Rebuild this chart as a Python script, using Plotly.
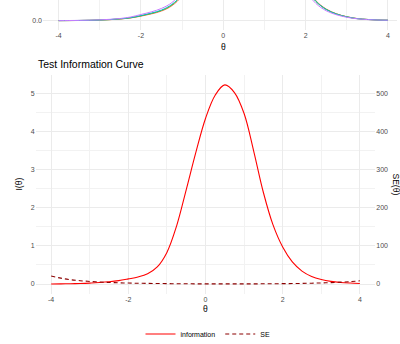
import plotly.graph_objects as go

# ---------------- data ----------------
theta = [-4.0, -3.75, -3.5, -3.25, -3.0, -2.75, -2.5, -2.25, -2.0, -1.75, -1.5, -1.25,
         -1.0, -0.75, -0.5, -0.25, 0.0, 0.25, 0.5, 0.75, 1.0, 1.25, 1.5, 1.75,
         2.0, 2.25, 2.5, 2.75, 3.0, 3.25, 3.5, 3.75, 4.0]

information = [0.003, 0.005, 0.009, 0.015, 0.025, 0.04, 0.06, 0.09, 0.135, 0.185, 0.27, 0.45,
               0.83, 1.52, 2.47, 3.45, 4.34, 4.95, 5.22, 5.02, 4.47, 3.48, 2.40, 1.55,
               0.97, 0.58, 0.34, 0.20, 0.12, 0.07, 0.042, 0.026, 0.016]

se = [21.0, 15.5, 11.5, 8.8, 6.8, 5.3, 4.2, 3.3, 2.6, 2.1, 1.8, 1.45,
      1.1, 0.81, 0.64, 0.54, 0.48, 0.45, 0.44, 0.45, 0.47, 0.54, 0.65, 0.79,
      1.01, 1.31, 1.71, 2.24, 2.9, 3.8, 4.9, 6.4, 8.5]

item_names = ["Item 1", "Item 2", "Item 3", "Item 4"]
item_colors = ["#F8766D", "#7CAE00", "#00BFC4", "#C77CFF"]
item_info = [
    [0.0004, 0.0008, 0.0015, 0.0026, 0.0045, 0.0075, 0.012, 0.020, 0.033, 0.049, 0.070, 0.108,
     0.18, 0.33, 0.59, 0.85, 1.07, 1.23, 1.30, 1.26, 1.13, 0.91, 0.63, 0.43,
     0.25, 0.145, 0.085, 0.050, 0.029, 0.016, 0.009, 0.005, 0.0035],
    [0.0005, 0.0009, 0.0016, 0.0028, 0.0048, 0.008, 0.013, 0.021, 0.035, 0.052, 0.074, 0.113,
     0.19, 0.35, 0.61, 0.86, 1.08, 1.24, 1.31, 1.25, 1.11, 0.89, 0.62, 0.42,
     0.24, 0.14, 0.082, 0.049, 0.028, 0.015, 0.009, 0.005, 0.0035],
    [0.0005, 0.001, 0.0017, 0.003, 0.005, 0.0085, 0.014, 0.022, 0.037, 0.055, 0.077, 0.118,
     0.19, 0.35, 0.62, 0.87, 1.09, 1.24, 1.30, 1.25, 1.11, 0.88, 0.61, 0.41,
     0.24, 0.14, 0.081, 0.048, 0.028, 0.015, 0.009, 0.005, 0.0035],
    [0.0006, 0.0012, 0.0022, 0.0036, 0.006, 0.010, 0.016, 0.027, 0.045, 0.064, 0.089, 0.131,
     0.21, 0.37, 0.63, 0.87, 1.10, 1.24, 1.31, 1.24, 1.10, 0.87, 0.59, 0.39,
     0.22, 0.125, 0.072, 0.043, 0.025, 0.014, 0.008, 0.005, 0.0035],
]

x_ticks = [-4, -2, 0, 2, 4]
x_tick_text = ["-4", "-2", "0", "2", "4"]
x_minor = [-3, -1, 1, 3]
info_ticks = [0, 1, 2, 3, 4, 5]
info_minor = [0.5, 1.5, 2.5, 3.5, 4.5]
se_ticks = [0, 100, 200, 300, 400, 500]

FONT = "Liberation Sans, Arial, Helvetica, sans-serif"
GRID = "#EBEBEB"
MINOR = "#F2F2F2"
TICKC = "#4D4D4D"

fig = go.Figure()

# top panel: item curves
for name, col, vals in zip(item_names, item_colors, item_info):
    fig.add_trace(go.Scatter(x=theta, y=vals, mode="lines", line=dict(color=col, width=1, shape="spline"),
                             name=name, showlegend=False, xaxis="x", yaxis="y"))

# bottom panel
fig.add_trace(go.Scatter(x=theta, y=information, mode="lines", name="information",
                         line=dict(color="#FF0000", width=1.1, shape="spline", smoothing=1.0),
                         xaxis="x2", yaxis="y2"))
fig.add_trace(go.Scatter(x=theta, y=se, mode="lines", name="SE",
                         line=dict(color="#8B0000", width=1.1, dash="4px,3px", shape="spline"),
                         xaxis="x2", yaxis="y3"))

H = 344.0
W = 400.0

def py(p):
    return 1 - p / H

def px(p):
    return p / W

tickfont = dict(family=FONT, size=7, color=TICKC)

fig.update_layout(
    width=400, height=344,
    margin=dict(l=0, r=0, t=0, b=0, autoexpand=False),
    paper_bgcolor="white", plot_bgcolor="white",
    font=dict(family=FONT, size=8, color="black"),
    xaxis=dict(domain=[px(43), px(397)], range=[-4.38, 4.22], anchor="y",
               tickvals=x_ticks, ticktext=x_tick_text, tickfont=tickfont,
               showgrid=True, gridcolor=GRID, gridwidth=1, zeroline=False, showline=False, ticks="",
               minor=dict(tickvals=x_minor, showgrid=True, gridcolor=MINOR, gridwidth=0.6)),
    yaxis=dict(domain=[py(30), 1], range=[-0.0674, 0.15], anchor="x",
               tickvals=[0], ticktext=["0.0"], tickfont=tickfont,
               showgrid=True, gridcolor=GRID, zeroline=False, showline=False, ticks=""),
    xaxis2=dict(domain=[px(35.7), px(375.3)], range=[-4.4, 4.4], anchor="y2",
                tickvals=x_ticks, ticktext=x_tick_text, tickfont=tickfont,
                showgrid=True, gridcolor=GRID, gridwidth=1, zeroline=False, showline=False, ticks="",
                minor=dict(tickvals=x_minor, showgrid=True, gridcolor=MINOR, gridwidth=0.6)),
    yaxis2=dict(domain=[py(294), py(75)], range=[-0.261, 5.48], anchor="x2",
                tickvals=info_ticks, tickfont=tickfont,
                showgrid=True, gridcolor=GRID, zeroline=False, showline=False, ticks="",
                minor=dict(tickvals=info_minor, showgrid=True, gridcolor=MINOR, gridwidth=0.6)),
    yaxis3=dict(overlaying="y2", side="right", range=[-26.1, 548], anchor="x2",
                tickvals=se_ticks, tickfont=tickfont, showgrid=False, zeroline=False,
                showline=False, ticks=""),
    legend=dict(orientation="h", x=0.52, xanchor="center", y=py(334), yanchor="middle",
                font=dict(family=FONT, size=7, color="black"), bgcolor="rgba(0,0,0,0)",
                itemwidth=30, tracegroupgap=0),
    annotations=[
        dict(text="Test Information Curve", x=px(36), y=py(64), xref="paper", yref="paper",
             xanchor="left", yanchor="middle", showarrow=False,
             font=dict(family=FONT, size=10.5, color="black")),
        dict(text="θ", x=px(223.3), y=py(47), xref="paper", yref="paper",
             xanchor="center", yanchor="middle", showarrow=False,
             font=dict(family=FONT, size=8.5, color="black")),
        dict(text="θ", x=px(205.5), y=py(309), xref="paper", yref="paper",
             xanchor="center", yanchor="middle", showarrow=False,
             font=dict(family=FONT, size=8.5, color="black")),
        dict(text="I(θ)", x=px(19), y=py(184.5), xref="paper", yref="paper",
             xanchor="center", yanchor="middle", showarrow=False, textangle=-90,
             font=dict(family=FONT, size=8.5, color="black")),
        dict(text="SE(θ)", x=px(395), y=py(184.5), xref="paper", yref="paper",
             xanchor="center", yanchor="middle", showarrow=False, textangle=90,
             font=dict(family=FONT, size=8.5, color="black")),
    ],
)

fig.write_html("out.html")
